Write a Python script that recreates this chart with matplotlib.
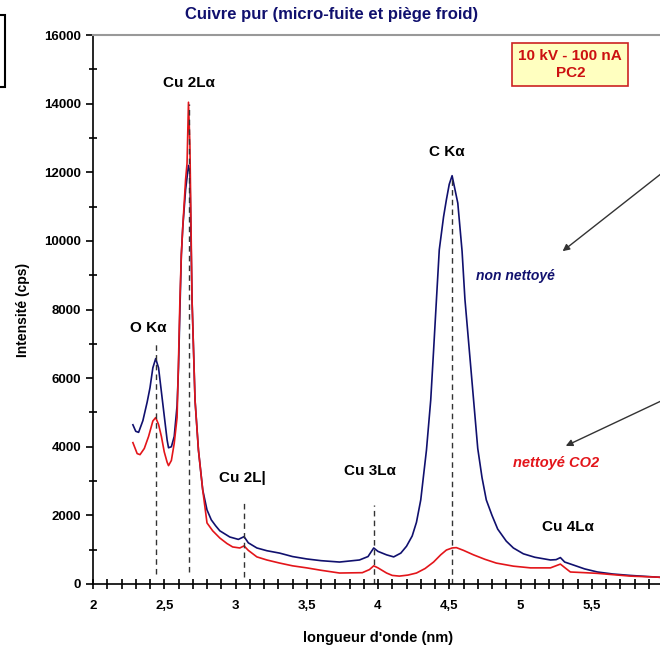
import matplotlib
matplotlib.use("Agg")
import matplotlib.pyplot as plt
from matplotlib.ticker import MultipleLocator, FuncFormatter
from matplotlib.patches import Rectangle

plt.rcParams['font.family'] = ['Liberation Sans', 'DejaVu Sans']

# spectre "non nettoyé" (bleu)
x_blue = [2.28, 2.30, 2.32, 2.35, 2.38, 2.40, 2.42, 2.44, 2.46, 2.48, 2.50, 2.52, 2.53,
          2.55, 2.57, 2.59, 2.60, 2.61, 2.62, 2.63, 2.65, 2.67, 2.68, 2.695, 2.716, 2.74,
          2.77, 2.80, 2.83, 2.86, 2.89, 2.96, 3.02, 3.06, 3.09, 3.15, 3.22, 3.31, 3.40,
          3.50, 3.60, 3.73, 3.87, 3.93, 3.97, 4.00, 4.06, 4.11, 4.16, 4.20, 4.24, 4.27,
          4.30, 4.34, 4.37, 4.39, 4.41, 4.43, 4.46, 4.48, 4.50, 4.52, 4.54, 4.56, 4.59,
          4.61, 4.64, 4.67, 4.70, 4.73, 4.76, 4.80, 4.84, 4.90, 4.95, 5.02, 5.10, 5.21,
          5.25, 5.28, 5.31, 5.37, 5.45, 5.54, 5.65, 5.77, 5.96, 6.0]
y_blue = [4640, 4450, 4420, 4760, 5300, 5720, 6300, 6570, 6300, 5600, 4900, 4200, 3970,
          4000, 4300, 5200, 6300, 8000, 9600, 10400, 11500, 12200, 12000, 8280, 5360, 3900,
          2740, 2160, 1870, 1700, 1550, 1370, 1300, 1380, 1200, 1050, 970, 900, 800,
          730, 680, 640, 700, 800, 1050, 950, 850, 790, 900, 1100, 1400, 1800,
          2450, 3900, 5360, 6800, 8280, 9740, 10700, 11200, 11650, 11900, 11500, 11100, 9700,
          8300, 6850, 5400, 3950, 3100, 2450, 2000, 1600, 1250, 1050, 880, 780, 700,
          710, 770, 640, 555, 440, 350, 290, 250, 200, 190]

# spectre "nettoyé CO2" (rouge)
x_red = [2.28, 2.31, 2.33, 2.36, 2.39, 2.42, 2.44, 2.46, 2.48, 2.50, 2.52, 2.53, 2.55,
         2.57, 2.59, 2.60, 2.61, 2.62, 2.63, 2.65, 2.66, 2.67, 2.68, 2.695, 2.716, 2.74,
         2.77, 2.80, 2.84, 2.89, 2.94, 2.98, 3.03, 3.06, 3.09, 3.15, 3.22, 3.31, 3.40,
         3.50, 3.60, 3.73, 3.89, 3.94, 3.97, 4.00, 4.06, 4.10, 4.15, 4.21, 4.27, 4.33,
         4.39, 4.44, 4.48, 4.52, 4.55, 4.60, 4.67, 4.75, 4.83, 4.95, 5.07, 5.21, 5.28,
         5.31, 5.35, 5.45, 5.54, 5.77, 5.96, 6.0]
y_red = [4120, 3800, 3770, 3950, 4300, 4750, 4850, 4650, 4300, 3850, 3550, 3450, 3600,
         4100, 4850, 6500, 8300, 9600, 10400, 11800, 12260, 14040, 12800, 8280, 5360, 3900,
         2740, 1780, 1550, 1340, 1180, 1080, 1050, 1110, 980, 790, 700, 610, 530,
         470, 400, 320, 330, 420, 530, 470, 320, 250, 230, 260, 320, 450,
         640, 850, 990, 1050, 1060, 980, 850, 720, 610, 520, 470, 470, 580,
         480, 350, 330, 310, 230, 200, 190]

# raies (position, bas, haut du trait pointillé)
line_x = [2.44, 2.675, 3.06, 3.97, 4.52]
line_bottom = [300, 350, 200, 0, 0]
line_top = [7050, 14000, 2400, 2300, 11900]

peak_labels = ["O K\u03b1", "Cu 2L\u03b1", "Cu 2L|", "Cu 3L\u03b1", "C K\u03b1", "Cu 4L\u03b1"]
peak_lx = [2.39, 2.67, 3.05, 3.94, 4.48, 5.33]
peak_ly = [7450, 14600, 3100, 3300, 12580, 1650]

navy = '#10106e'
red = '#e3151a'

fig = plt.figure(figsize=(6.6, 6.48), dpi=100)
ax = fig.add_axes([93/660, 1-584/648, 570/660, 549/648])

ax.plot(x_blue, y_blue, color=navy, lw=1.2)
ax.plot(x_red, y_red, color=red, lw=1.2)

for xv, b, t in zip(line_x, line_bottom, line_top):
    ax.plot([xv, xv], [b, t], color='#333333', lw=1, ls=(0, (4, 3)))

for lab, lx, ly in zip(peak_labels, peak_lx, peak_ly):
    ax.text(lx, ly, lab, ha='center', va='center', fontsize=11, fontweight='bold')

ax.set_xlim(2, 6)
ax.set_ylim(0, 16000)
ax.xaxis.set_major_locator(MultipleLocator(0.5))
ax.xaxis.set_minor_locator(MultipleLocator(0.1))
ax.yaxis.set_major_locator(MultipleLocator(2000))
ax.yaxis.set_minor_locator(MultipleLocator(1000))
ax.xaxis.set_major_formatter(FuncFormatter(lambda v, p: ('%g' % v).replace('.', ',')))
ax.tick_params(axis='x', which='both', direction='inout', length=7, width=1.2, pad=8)
ax.tick_params(axis='y', which='major', direction='out', length=5, width=1.2)
ax.tick_params(axis='y', which='minor', direction='inout', length=6, width=1.2)
for lab in ax.get_xticklabels() + ax.get_yticklabels():
    lab.set_fontweight('bold')
    lab.set_fontsize(9.5)

ax.spines['right'].set_visible(False)
ax.spines['top'].set_color('#999999')
ax.spines['top'].set_linewidth(1.5)
ax.spines['left'].set_linewidth(1.2)
ax.spines['bottom'].set_linewidth(1.2)

ax.set_xlabel("longueur d'onde (nm)", fontsize=10.5, fontweight='bold', labelpad=14)
ax.set_ylabel("Intensité (cps)", fontsize=10, fontweight='bold', labelpad=10)

fig.text(332/660, 1-14/648, "Cuivre pur (micro-fuite et piège froid)", ha='center', va='center',
         fontsize=12, fontweight='bold', color=navy)

ax.text(5.35, 15130, "10 kV - 100 nA\nPC2", ha='center', va='center', fontsize=11,
        fontweight='bold', color='#cc1111', linespacing=1.25,
        bbox=dict(boxstyle='square,pad=0.4', fc='#ffffc0', ec='#cc2222', lw=1.2))

ax.text(4.69, 8980, "non nettoyé", fontsize=10, fontweight='bold', style='italic',
        color=navy, ha='left', va='center')
ax.text(5.25, 3530, "nettoyé CO2", fontsize=10.5, fontweight='bold', style='italic',
        color=red, ha='center', va='center')
ax.annotate("", xy=(5.28, 9650), xytext=(6.0, 12000),
            arrowprops=dict(arrowstyle='-|>', color='#333333', lw=1, mutation_scale=10),
            annotation_clip=False)
ax.annotate("", xy=(5.3, 3990), xytext=(6.0, 5360),
            arrowprops=dict(arrowstyle='-|>', color='#333333', lw=1, mutation_scale=10),
            annotation_clip=False)

# bord d'un cadre coupé à gauche
fig.add_artist(Rectangle((-0.02, 1-87/648), 0.027, 72/648, transform=fig.transFigure,
                         fill=False, ec='black', lw=1.5))

fig.savefig("out.png", dpi=100)
